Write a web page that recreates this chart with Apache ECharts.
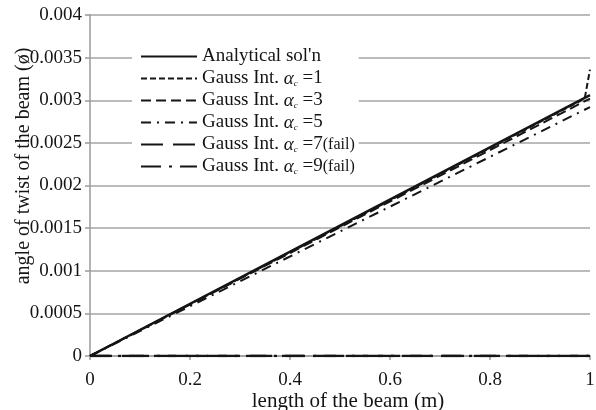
<!DOCTYPE html>
<html>
<head>
<meta charset="utf-8">
<script src="https://cdn.jsdelivr.net/npm/echarts@6/dist/echarts.min.js"></script>
<style>
html, body { margin: 0; padding: 0; background: #fff; }
#chart { width: 596px; height: 410px; }
</style>
</head>
<body>
<div id="chart"></div>
<script>
// 数据 (x = length of the beam, y = angle of twist)
var analytical = [[0, 0], [0.5, 0.00153], [1, 0.00306]]
var gauss1 = [[0, 0], [0.5, 0.00152], [0.98, 0.00299], [0.99, 0.00304], [1, 0.00336]]
var gauss3 = [[0, 0], [0.5, 0.00151], [1, 0.00302]]
var gauss5 = [[0, 0], [0.5, 0.00146], [1, 0.00292]]
var gauss7 = [[0, 0], [1, 0]]
var gauss9 = [[0, 0], [1, 0]]
var seriesNames = ['Analytical', 'G1', 'G3', 'G5', 'G7', 'G9']
var legendTexts = [
	"Analytical sol'n",
	'Gauss Int. {a|α}{s|c}{t| =1}',
	'Gauss Int. {a|α}{s|c}{t| =3}',
	'Gauss Int. {a|α}{s|c}{t| =5}',
	'Gauss Int. {a|α}{s|c}{t| =7}{f|(fail)}',
	'Gauss Int. {a|α}{s|c}{t| =9}{f|(fail)}'
]
var xTicks = ['0', '0.2', '0.4', '0.6', '0.8', '1']
var yTicks = ['0', '0.0005', '0.001', '0.0015', '0.002', '0.0025', '0.003', '0.0035', '0.004']
var yName = 'angle of twist of the beam (ø)'

var font = '"Liberation Serif", "DejaVu Serif", serif'
var ink = '#151515'

function mkLine(name, data, type, width){
	return {
		name: name,
		type: 'line',
		data: data,
		showSymbol: false,
		symbol: 'none',
		animation: false,
		lineStyle: { color: ink, width: width, type: type },
		itemStyle: { color: ink }
	}
}

const option = {
	animation: false,
	textStyle: { fontFamily: font },
	grid: { left: 90, right: 6, top: 15, bottom: 54, containLabel: false, outerBoundsMode: 'none' },
	// y轴标题 (rotated, overlaps tick labels like the original)
	graphic: [{
		type: 'text',
		x: 24,
		y: 166,
		rotation: Math.PI / 2,
		style: {
			text: yName,
			fontFamily: font,
			fontSize: 20,
			fill: ink,
			align: 'center',
			verticalAlign: 'middle'
		}
	}],
	legend: {
		show: true,
		orient: 'vertical',
		left: 132,
		top: 45,
		backgroundColor: '#fff',
		padding: [2, 4, 2, 8],
		itemGap: 3,
		itemWidth: 56,
		itemHeight: 20,
		itemStyle: { opacity: 0 },
		data: seriesNames,
		formatter: (name) => legendTexts[seriesNames.indexOf(name)],
		textStyle: {
			fontFamily: font,
			fontSize: 19,
			color: ink,
			rich: {
				a: { fontFamily: font, fontStyle: 'italic', fontSize: 19, color: ink },
				s: { fontFamily: font, fontStyle: 'italic', fontSize: 9, color: ink, verticalAlign: 'bottom', padding: [10, 0, 0, 0] },
				t: { fontFamily: font, fontSize: 19, color: ink },
				f: { fontFamily: font, fontSize: 16, color: ink }
			}
		}
	},
	xAxis: {
		type: 'value',
		min: 0,
		max: 1,
		interval: 0.2,
		name: 'length of the beam (m)',
		nameLocation: 'middle',
		nameGap: 35,
		nameMoveOverlap: false,
		nameTextStyle: { fontFamily: font, fontSize: 21, color: ink, padding: [0, 0, 0, 16] },
		axisLine: { lineStyle: { color: '#9a9a9a', width: 1.5 } },
		axisTick: { show: true, length: 4, lineStyle: { color: '#9a9a9a', width: 1.5 } },
		splitLine: { show: false },
		axisLabel: {
			fontFamily: font, fontSize: 19, color: ink, margin: 15,
			formatter: (v) => xTicks[Math.round(v / 0.2)]
		}
	},
	yAxis: {
		type: 'value',
		min: 0,
		max: 0.004,
		interval: 0.0005,
		axisLine: { show: true, lineStyle: { color: '#9a9a9a', width: 1.5 } },
		axisTick: { show: true, length: 5, lineStyle: { color: '#9a9a9a', width: 1.5 } },
		splitLine: { show: true, lineStyle: { color: '#a5a5a5', width: 1.5 } },
		axisLabel: {
			fontFamily: font, fontSize: 19, color: ink, margin: 8,
			formatter: (v) => yTicks[Math.round(v / 0.0005)]
		}
	},
	series: [
		mkLine('Analytical', analytical, 'solid', 2.5),
		mkLine('G1', gauss1, [6, 3], 2),
		mkLine('G3', gauss3, [10, 5], 2),
		mkLine('G5', gauss5, [10, 6, 2, 6], 2),
		mkLine('G7', gauss7, [22, 10], 2.5),
		mkLine('G9', gauss9, [20, 8, 3, 8], 2.5)
	]
}

let myChart = echarts.init(document.getElementById('chart'))
myChart.setOption(option)
</script>
</body>
</html>
